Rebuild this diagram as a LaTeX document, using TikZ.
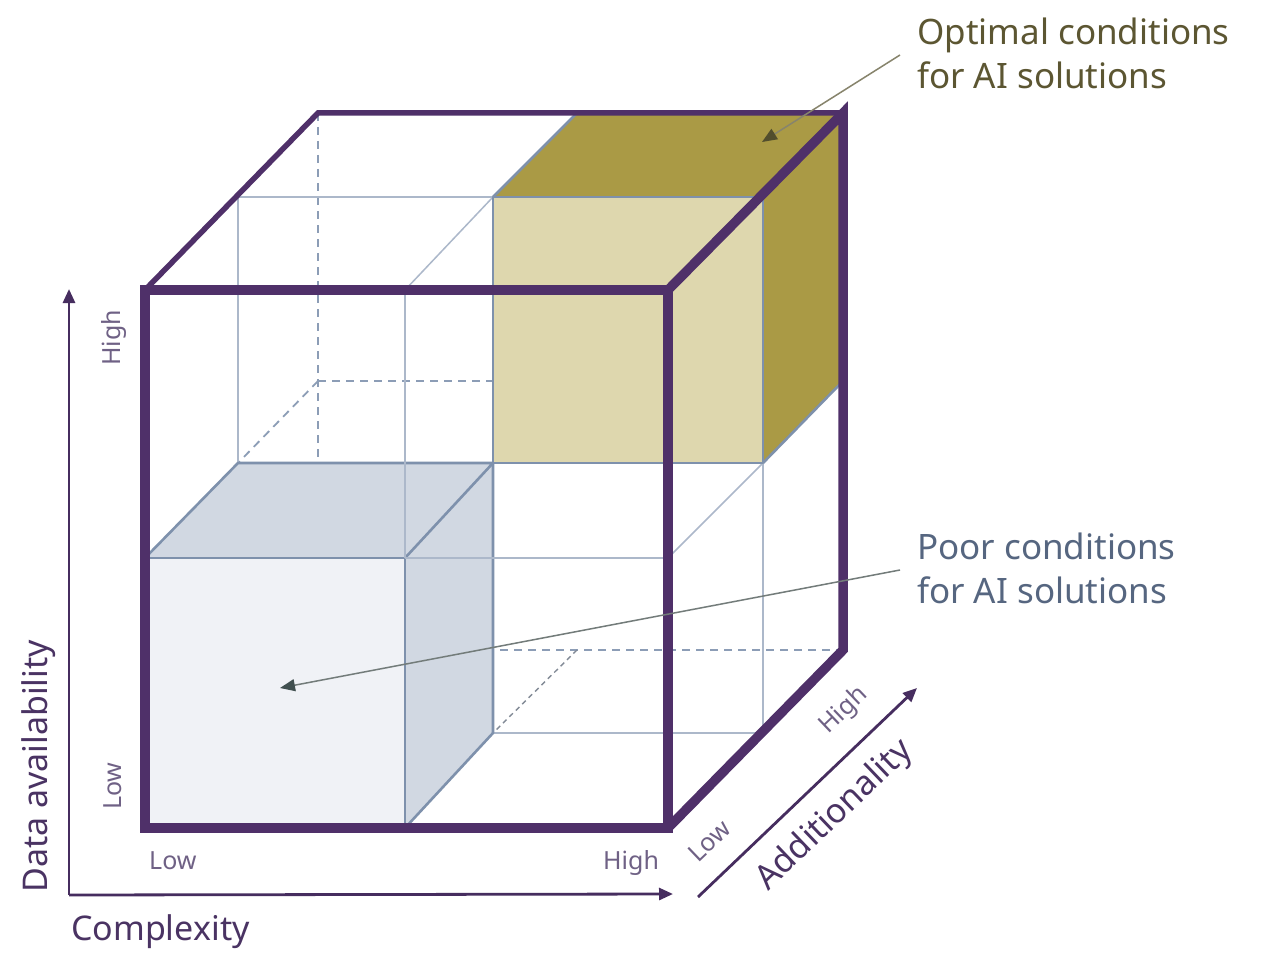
\documentclass[tikz,border=0pt]{standalone}
\usepackage{fontspec}
\setmainfont{Noto Sans}
\usetikzlibrary{arrows.meta}
\definecolor{cpurple}{RGB}{79,48,105}
\definecolor{axispurple}{RGB}{70,45,95}
\definecolor{lblpurple}{RGB}{74,51,99}
\definecolor{smallpurple}{RGB}{111,97,133}
\definecolor{olivedark}{RGB}{170,154,69}
\definecolor{olivelight}{RGB}{222,215,174}
\definecolor{bluetop}{RGB}{209,216,226}
\definecolor{bluefront}{RGB}{240,242,246}
\definecolor{edgeblue}{RGB}{126,145,172}
\definecolor{thinblue}{RGB}{172,184,202}
\definecolor{dashblue}{RGB}{140,157,182}
\definecolor{dashgrey}{RGB}{130,138,150}
\definecolor{opttext}{RGB}{92,86,50}
\definecolor{poortext}{RGB}{86,102,128}
\definecolor{optline}{RGB}{135,132,108}
\definecolor{opthead}{RGB}{82,78,45}
\definecolor{poorline}{RGB}{115,124,122}
\definecolor{poorhead}{RGB}{65,80,80}
% one depth layer of the 3x3 grid: #1 depth index, #2-#4 x (low,mid,high), #5-#7 y (low,mid,high)
\newcommand\mklayer[7]{%
  \coordinate (c00#1) at (#2,#5); \coordinate (c10#1) at (#3,#5); \coordinate (c20#1) at (#4,#5);
  \coordinate (c01#1) at (#2,#6); \coordinate (c11#1) at (#3,#6); \coordinate (c21#1) at (#4,#6);
  \coordinate (c02#1) at (#2,#7); \coordinate (c12#1) at (#3,#7); \coordinate (c22#1) at (#4,#7);}
\begin{document}
\begin{tikzpicture}[x=1pt,y=-1pt,
  backdash/.style={draw=dashblue,line width=1.8pt,dash pattern=on 8pt off 6pt},
  backdashdark/.style={draw=dashgrey,line width=1.4pt,dash pattern=on 5pt off 4pt},
  thinline/.style={draw=thinblue,line width=1.5pt},
  cubeedge/.style={draw=edgeblue,line width=2.6pt,line join=round},
  outerthick/.style={draw=cpurple,line width=9.5pt,line join=miter},
  outermid/.style={draw=cpurple,line width=5.5pt,line join=miter},
  axisline/.style={draw=axispurple,line width=2.8pt,-{Triangle[length=14pt,width=12pt]}},
  biglabel/.style={inner sep=0pt,text=lblpurple,font=\fontsize{34}{42}\selectfont},
  smalllabel/.style={inner sep=0pt,text=smallpurple,font=\fontsize{25}{30}\selectfont},
  calllabel/.style={inner sep=0pt,align=left,anchor=north west,font=\fontsize{35}{44}\selectfont}]
\fill[white] (0,0) rectangle (1280,971);
\useasboundingbox (0,0) rectangle (1280,971);
\mklayer{0}{145}{405}{668}{828}{558}{290}
\mklayer{1}{238}{493}{763}{733}{463}{197}
\mklayer{2}{318}{577}{843}{650}{381}{113}
% hidden back lines
\draw[backdash] (c022) -- (c002);
\draw[backdash] (c012) -- (c212);
\draw[backdash] (c002) -- (c202);
\draw[backdash] (c012) -- (c011);
\draw[backdashdark] (c102) -- (c101);
% thin grid lines
\draw[thinline] (c021) -- (c121);
\draw[thinline] (c021) -- (c011);
\draw[thinline] (c101) -- (c201);
\draw[thinline] (c201) -- (c211);
\draw[thinline] (c120) -- (c121);
\draw[thinline] (c210) -- (c211);
% poor-conditions cube
\fill[bluetop] (c010) -- (c110) -- (c111) -- (c011) -- cycle;
\fill[bluetop] (c100) -- (c101) -- (c111) -- (c110) -- cycle;
\fill[bluefront] (c000) -- (c100) -- (c110) -- (c010) -- cycle;
\draw[cubeedge] (c000) -- (c100) -- (c110) -- (c010) -- cycle;
\draw[cubeedge] (c010) -- (c011) -- (c111) -- (c110);
\draw[cubeedge] (c100) -- (c101) -- (c111);
% thin front lines
\draw[thinline] (c120) -- (c110);
\draw[thinline] (c110) -- (c210);
% optimal-conditions cube
\fill[olivedark] (c121) -- (c221) -- (c222) -- (c122) -- cycle;
\fill[olivedark] (c211) -- (c212) -- (c222) -- (c221) -- cycle;
\fill[olivelight] (c111) -- (c211) -- (c221) -- (c121) -- cycle;
\draw[cubeedge] (c111) -- (c211) -- (c221) -- (c121) -- cycle;
\draw[cubeedge] (c121) -- (c122) -- (c222);
\draw[cubeedge] (c211) -- (c212);
% outer cube
\draw[outermid] (c020) -- (c022) -- (c222);
\draw[outerthick] (c220) -- (c222) -- (c202) -- (c200);
\draw[outerthick] (c000) -- (c200) -- (c220) -- (c020) -- cycle;
% axes
\coordinate (origin) at (69,895);
\coordinate (ytip) at (69,289);
\coordinate (xtip) at (673,894);
\coordinate (zstart) at (698,897);
\coordinate (ztip) at (917,688);
\draw[axisline] (origin) -- (ytip);
\draw[axisline] (origin) -- (xtip);
\draw[axisline] (zstart) -- (ztip);
\node[biglabel,anchor=base west,rotate=90] (ylabel) at (47,893) {Data availability};
\node[biglabel,anchor=base west] (xlabel) at (71,940) {Complexity};
\node[biglabel,anchor=base west,rotate=43.7] (zlabel) at (768,892) {Additionality};
\node[smalllabel,anchor=base west,rotate=90] (ylow) at (121,810) {Low};
\node[smalllabel,anchor=base west,rotate=90] (yhigh) at (120,366) {High};
\node[smalllabel,anchor=base west] (xlow) at (149,869) {Low};
\node[smalllabel,anchor=base west] (xhigh) at (603,869) {High};
\node[smalllabel,anchor=base west,rotate=43.7] (zlow) at (698,864) {Low};
\node[smalllabel,anchor=base west,rotate=43.7] (zhigh) at (828,735) {High};
% callouts
\node[calllabel,text=opttext] (opt) at (917,18) {Optimal conditions\\for AI solutions};
\node[calllabel,text=poortext] (poor) at (917,533) {Poor conditions\\for AI solutions};
\coordinate (optstart) at (900,55);
\coordinate (opttip) at (762,142);
\coordinate (poorstart) at (900,570);
\coordinate (poortip) at (280,688);
\draw[draw=optline,line width=1.5pt,-{Triangle[length=15pt,width=12pt,color=opthead]}] (optstart) -- (opttip);
\draw[draw=poorline,line width=1.5pt,-{Triangle[length=15pt,width=12pt,color=poorhead]}] (poorstart) -- (poortip);
\end{tikzpicture}
\end{document}
